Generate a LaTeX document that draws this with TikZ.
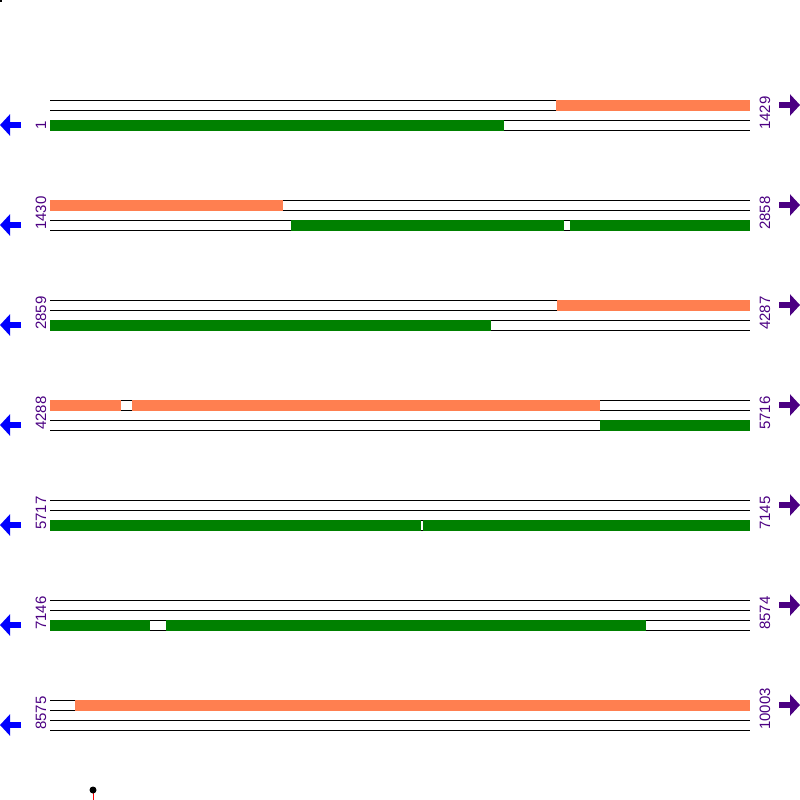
\documentclass[tikz,border=0pt]{standalone}
\usepackage{fontspec}
\setmainfont{Liberation Sans}
\usetikzlibrary{arrows.meta}
\definecolor{fwdcol}{HTML}{FF7F50}
\definecolor{revcol}{HTML}{008000}
\definecolor{poscol}{HTML}{4B0082}
\tikzset{
  track/.style={draw=black, line width=1pt},
  fwdbar/.style={fill=fwdcol},
  revbar/.style={fill=revcol},
  poslabel/.style={text=poscol, inner sep=0pt, rotate=90, anchor=base west,
    font=\fontsize{15}{15}\selectfont},
  revarrow/.style={draw=blue, line width=6pt, -{Triangle[length=10pt, width=21pt]}},
  fwdarrow/.style={draw=poscol, line width=6pt, -{Triangle[length=10pt, width=21pt]}}
}
\begin{document}
\begin{tikzpicture}[x=1pt, y=-1pt]
    \useasboundingbox (0,0) rectangle (800,800);
    \fill (0,0) rectangle (2,2);
    % rows of four tracks
    \foreach \r\a\b in {1/1/1429, 2/1430/2858, 3/2859/4287, 4/4288/5716,
                        5/5717/7145, 6/7146/8574, 7/8575/10003} {
      \foreach \k in {0,10,20,30} {
        \draw[track] (50,100*\r+\k) -- (750,100*\r+\k);
      }
      \node[poslabel] (start\r) at (46,100*\r+30) {\a};
      \node[poslabel] (end\r) at (770,100*\r+30) {\b};
      \coordinate (revtail\r) at (21,100*\r+25);
      \coordinate (revtip\r) at (0,100*\r+25);
      \coordinate (fwdtail\r) at (779,100*\r+5);
      \coordinate (fwdtip\r) at (800,100*\r+5);
      \draw[revarrow] (revtail\r) -- (revtip\r);
      \draw[fwdarrow] (fwdtail\r) -- (fwdtip\r);
    }
    % forward strand
    \foreach \y\s\e in {100/556/750, 200/50/283, 300/557/750, 400/50/121,
                        400/132/600, 700/75/750} {
      \fill[fwdbar] (\s,\y-0.5) rectangle (\e,\y+10.5);
    }
    % reverse strand
    \foreach \y\s\e in {100/50/504, 200/291/564, 200/570/750, 300/50/491,
                        400/600/750, 500/50/421, 500/423/750, 600/50/150,
                        600/166/646} {
      \fill[revbar] (\s,\y+19.5) rectangle (\e,\y+30.5);
    }
    % scale mark
    \draw[red, line width=1pt] (93,791) -- (93,800);
    \fill (93,790) circle (3.5);
  \end{tikzpicture}
\end{document}
